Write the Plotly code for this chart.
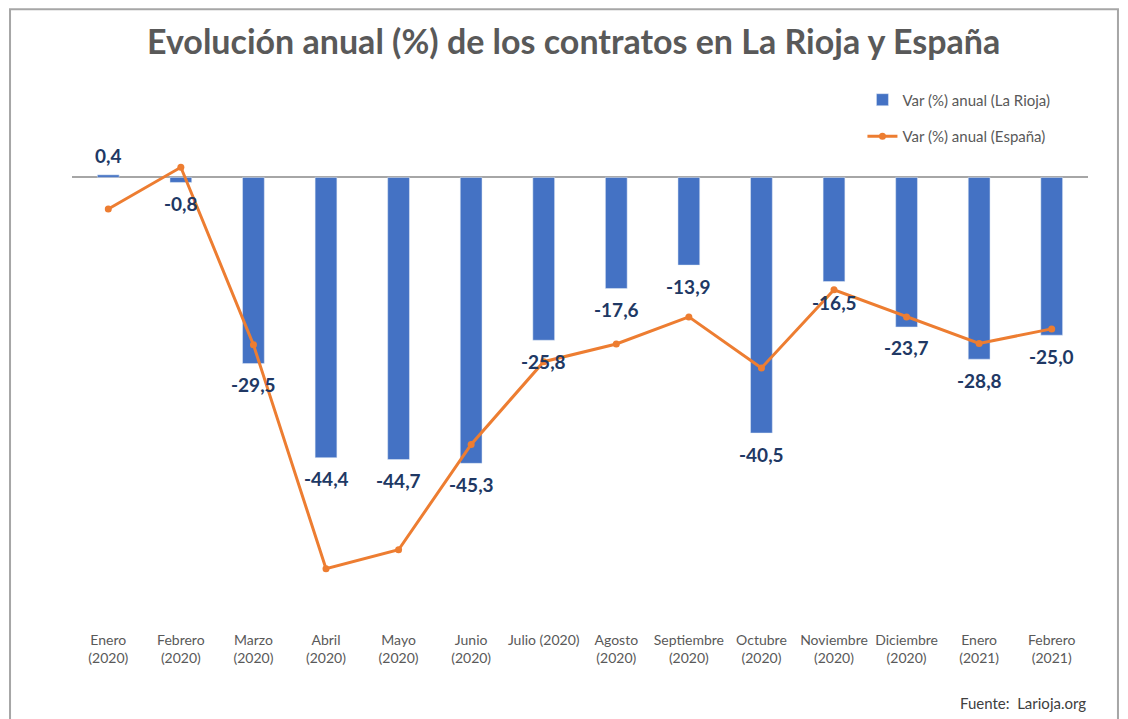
import plotly.graph_objects as go

categories = ["Enero<br>(2020)", "Febrero<br>(2020)", "Marzo<br>(2020)", "Abril<br>(2020)",
              "Mayo<br>(2020)", "Junio<br>(2020)", "Julio (2020)", "Agosto<br>(2020)",
              "Septiembre<br>(2020)", "Octubre<br>(2020)", "Noviembre<br>(2020)",
              "Diciembre<br>(2020)", "Enero<br>(2021)", "Febrero<br>(2021)"]
rioja = [0.4, -0.8, -29.5, -44.4, -44.7, -45.3, -25.8, -17.6, -13.9, -40.5, -16.5, -23.7, -28.8, -25.0]
espana = [-5.0, 1.6, -26.5, -62.0, -59.0, -42.3, -29.2, -26.4, -22.1, -30.2, -17.8, -22.1, -26.3, -24.0]

BAR_C = "#4472C4"
LINE_C = "#ED7D31"
FONT = "Lato"

fig = go.Figure()
fig.add_trace(go.Bar(x=categories, y=rioja, name="Var (%) anual (La Rioja)",
                     marker=dict(color=BAR_C), width=0.3, legendgroup="a"))
fig.add_trace(go.Scatter(x=categories, y=espana, name="Var (%) anual (España)",
                         mode="lines+markers", line=dict(color=LINE_C, width=3),
                         marker=dict(color=LINE_C, size=7), legendgroup="b"))

annotations = []
for c, v in zip(categories, rioja):
    annotations.append(dict(x=c, y=v, xref="x", yref="y", showarrow=False,
                            text=f"{v:.1f}".replace(".", ","),
                            yshift=(19 if v >= 0 else -21),
                            font=dict(family=FONT, size=19, color="#203864", weight="bold")))
annotations.append(dict(text="Fuente:  Larioja.org", xref="paper", yref="paper",
                        x=1.0, y=-0.216, xanchor="right", yanchor="middle", showarrow=False,
                        font=dict(family=FONT, size=15, color="#404040")))

fig.update_layout(
    width=1120, height=711,
    margin=dict(l=64, r=40, t=81, b=125),
    paper_bgcolor="white", plot_bgcolor="white",
    title=dict(text="<b>Evolución anual (%) de los contratos en La Rioja y España</b>",
               x=0.505, xanchor="center", y=0.952, yanchor="middle",
               font=dict(family=FONT, size=34, color="#595959")),
    font=dict(family=FONT, color="#595959"),
    showlegend=True,
    legend=dict(x=0.778, y=1.011, xanchor="left", yanchor="top",
                font=dict(family=FONT, size=15, color="#595959"),
                tracegroupgap=14, bgcolor="rgba(0,0,0,0)"),
    annotations=annotations,
    shapes=[dict(type="rect", xref="paper", yref="paper",
                 x0=-0.061, x1=1.0295, y0=-0.27, y1=1.158,
                 line=dict(color="#A6A6A6", width=2), fillcolor="rgba(0,0,0,0)", layer="below")],
)
fig.update_xaxes(range=[-0.5, 13.5], showline=False, showgrid=False, ticks="",
                 ticklabelstandoff=36,
                 tickfont=dict(family=FONT, size=14, color="#595959"), tickangle=0)
fig.update_yaxes(range=[-66, 14], showticklabels=False, showgrid=False,
                 zeroline=True, zerolinecolor="#A6A6A6", zerolinewidth=1.5)

fig.write_html("out.html")
